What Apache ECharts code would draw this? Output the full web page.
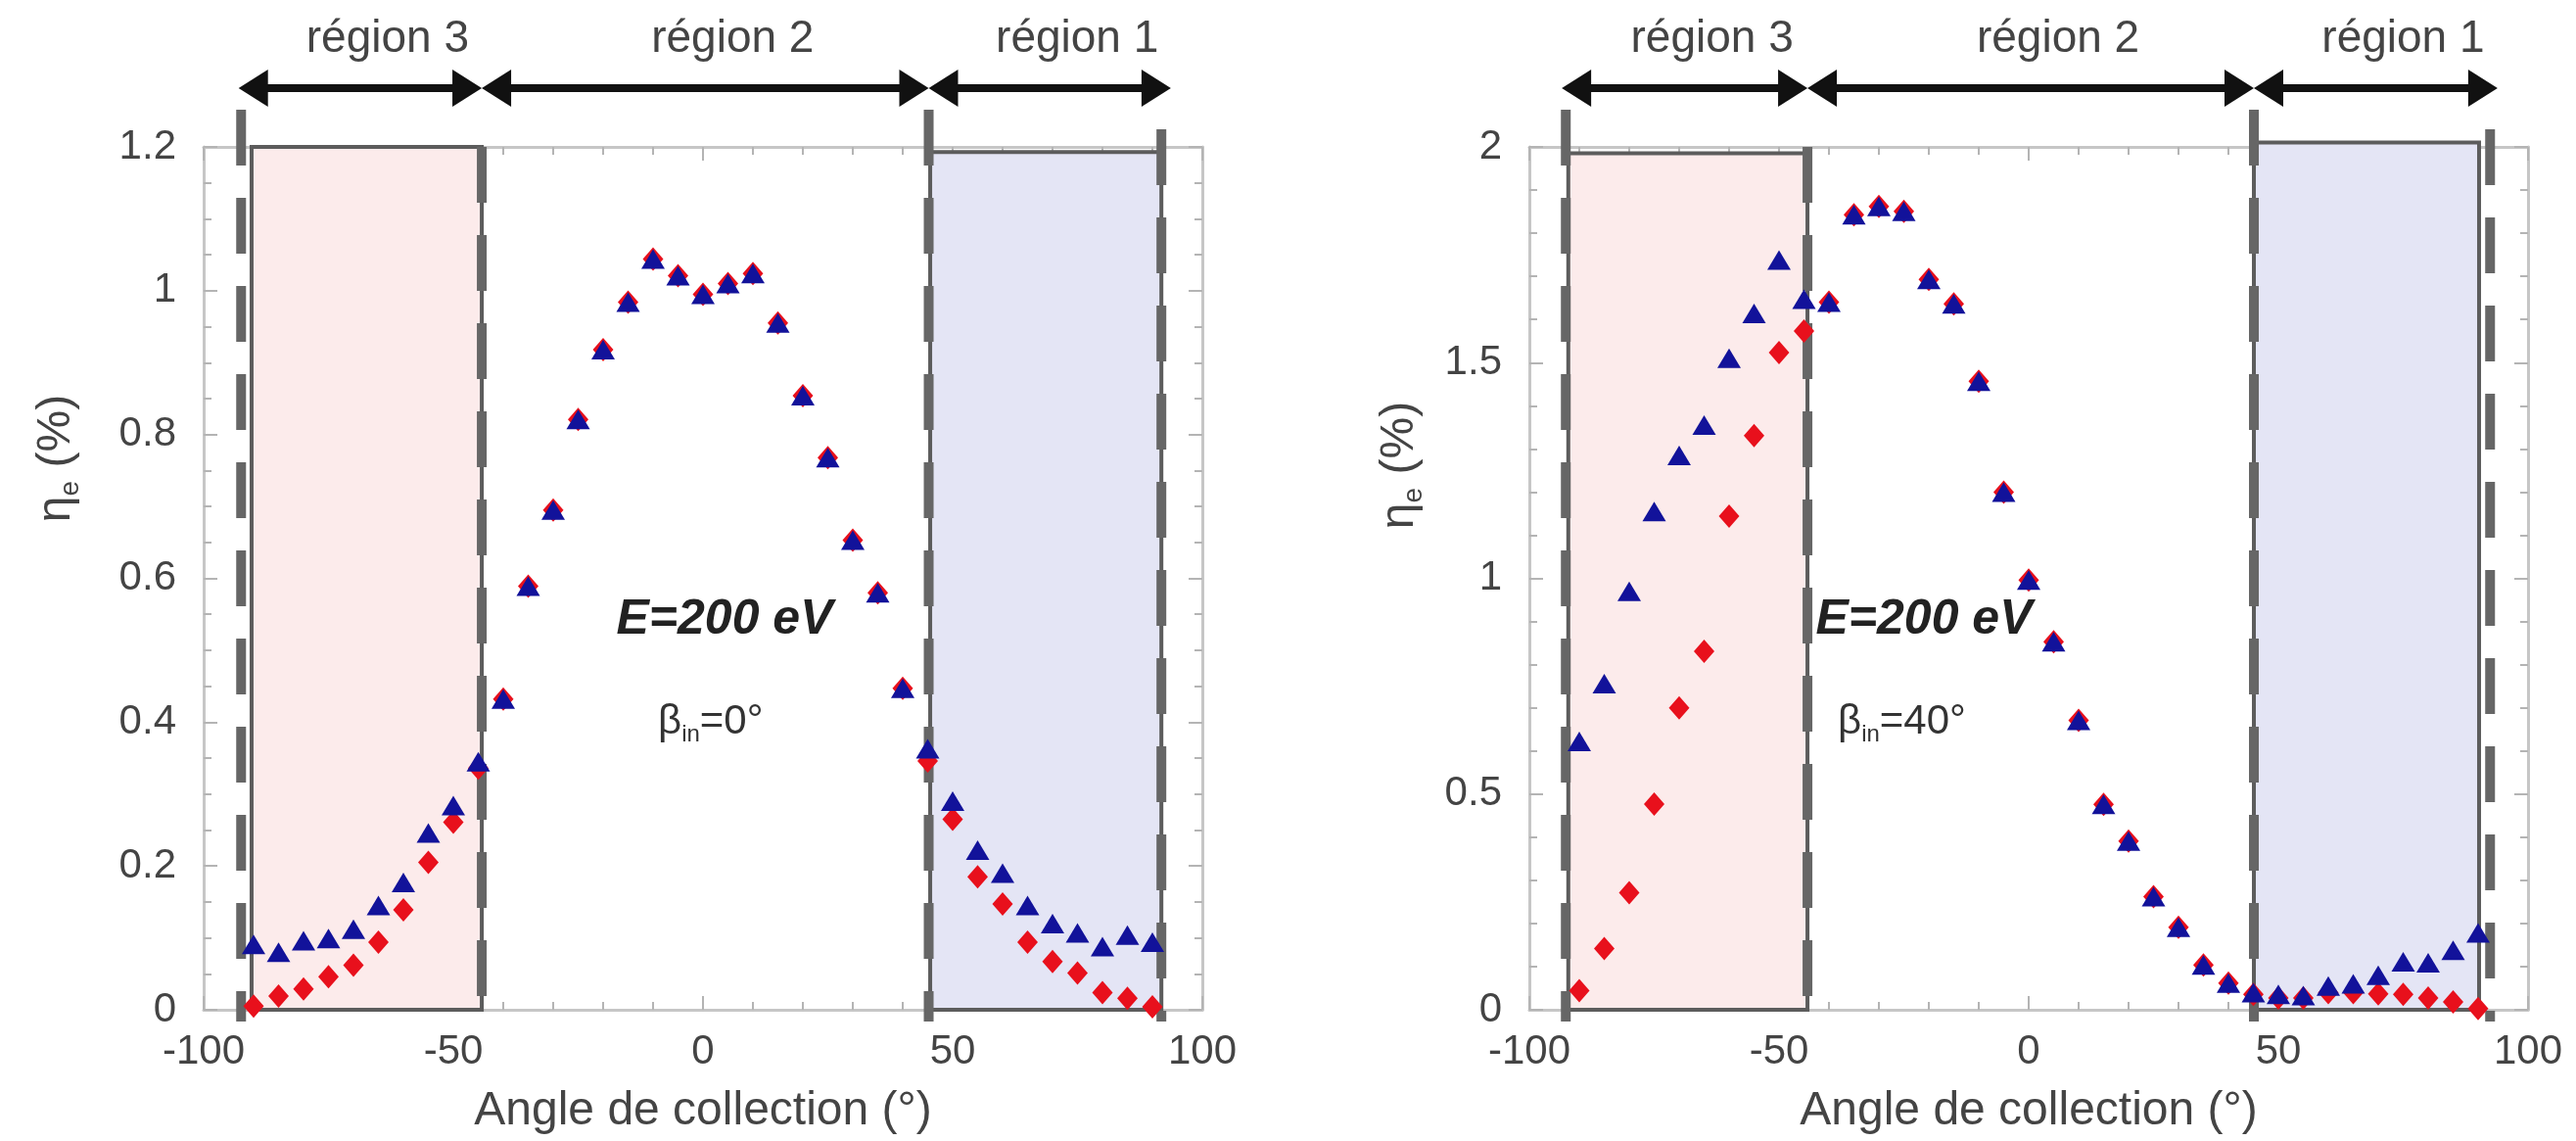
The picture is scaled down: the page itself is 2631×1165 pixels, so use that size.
<!DOCTYPE html>
<html>
<head>
<meta charset="utf-8">
<script src="https://cdn.jsdelivr.net/npm/echarts@6/dist/echarts.min.js"></script>
<style>
  html, body { margin: 0; padding: 0; background: #fff; }
  #chart { width: 2631px; height: 1165px; }
</style>
</head>
<body>
<div id="chart"></div>
<script>
// collection angles (deg), shared by both panels
var angles = [-90, -85, -80, -75, -70, -65, -60, -55, -50, -45,
  -40, -35, -30, -25, -20, -15, -10, -5, 0, 5, 10, 15, 20, 25, 30, 35, 40,
  45, 50, 55, 60, 65, 70, 75, 80, 85, 90];

// beta_in = 0 deg
var eta0Tri = [0.091, 0.080, 0.096, 0.099, 0.112, 0.145, 0.177, 0.246, 0.284, 0.345,
  0.432, 0.589, 0.695, 0.821, 0.918, 0.984, 1.044, 1.021, 0.995, 1.010, 1.024, 0.955, 0.854, 0.768, 0.653, 0.580, 0.447,
  0.363, 0.290, 0.222, 0.190, 0.145, 0.120, 0.107, 0.088, 0.104, 0.094];
var eta0Dia = [0.005, 0.019, 0.029, 0.046, 0.062, 0.094, 0.139, 0.205, 0.261, 0.336,
  0.432, 0.589, 0.695, 0.821, 0.918, 0.984, 1.044, 1.021, 0.995, 1.010, 1.024, 0.955, 0.854, 0.768, 0.653, 0.580, 0.447,
  0.346, 0.265, 0.185, 0.147, 0.094, 0.067, 0.051, 0.024, 0.016, 0.004];

// beta_in = 40 deg
var eta40Tri = [0.622, 0.756, 0.970, 1.155, 1.285, 1.355, 1.510, 1.614, 1.738, 1.647,
  1.640, 1.843, 1.862, 1.851, 1.693, 1.636, 1.457, 1.200, 0.996, 0.853, 0.671, 0.476, 0.391, 0.262, 0.191, 0.104, 0.062,
  0.040, 0.036, 0.033, 0.055, 0.060, 0.080, 0.111, 0.109, 0.138, 0.178];
var eta40Dia = [0.044, 0.142, 0.271, 0.477, 0.700, 0.831, 1.144, 1.331, 1.523, 1.573,
  1.640, 1.843, 1.862, 1.851, 1.693, 1.636, 1.457, 1.200, 0.996, 0.853, 0.671, 0.476, 0.391, 0.262, 0.191, 0.104, 0.062,
  0.036, 0.027, 0.027, 0.040, 0.040, 0.037, 0.036, 0.027, 0.018, 0.003];

// region boundaries (angle), shaded boxes [from, to, top]
var regionNames = ['région 3', 'région 2', 'région 1'];
var arrowBeta0 = [-93, -44.3, 45.2, 93.7];
var arrowBeta40 = [-93.5, -44.3, 45.1, 93.9];
var dashBeta0 = [-92.5, -44.3, 45.2, 91.8];
var dashBeta40 = [-92.7, -44.3, 45.1, 92.4];
var shadeBeta0 = [[-90.4, -44.3, 1.2], [45.5, 91.8, 1.193]];
var shadeBeta40 = [[-92.2, -44.3, 1.985], [45.1, 90.2, 2.01]];

var yMaxes = [1.2, 2];
var ySteps = [0.2, 0.5];
var yMinorSplits = [4, 5];
var xTicks = { min: -100, max: 100, step: 50 };
var energyText = 'E=200 eV';
var betaTexts = ['=0°', '=40°'];
var xTitle = 'Angle de collection (°)';

var font = 'Liberation Sans, Arial, sans-serif';
var frameColor = '#c6c6c6';
var tickColor = '#b4b4b4';
var textColor = '#444';
var triColor = '#12129a';
var diaColor = '#e8101c';
var shadeFills = ['#fcebeb', '#e4e5f5'];
var dashRise = [38, 0, 38, 18];

var chart = echarts.init(document.getElementById('chart'));

function pairs(xs, ys) {
  return xs.map(function (x, i) { return [x, ys[i]]; });
}

function xAxesFor(gi) {
  var base = {
    gridIndex: gi, type: 'value', min: xTicks.min, max: xTicks.max, interval: xTicks.step,
    splitLine: { show: false },
    axisLine: { onZero: false, lineStyle: { color: frameColor, width: 3 } },
    axisTick: { inside: true, length: 14, lineStyle: { color: tickColor, width: 2 } },
    minorTick: { show: true, splitNumber: 5, length: 8, lineStyle: { color: tickColor, width: 2 } }
  };
  var bottom = Object.assign({}, base, {
    position: 'bottom',
    axisLabel: { margin: 22, fontSize: 42, color: textColor, fontFamily: font },
    name: xTitle, nameLocation: 'middle', nameGap: 80,
    nameTextStyle: { fontSize: 48, color: textColor, fontFamily: font }
  });
  var top = Object.assign({}, base, { position: 'top', axisLabel: { show: false } });
  return [bottom, top];
}

function yAxesFor(gi) {
  var base = {
    gridIndex: gi, type: 'value', min: 0, max: yMaxes[gi], interval: ySteps[gi],
    splitLine: { show: false },
    axisLine: { show: true, onZero: false, lineStyle: { color: frameColor, width: 3 } },
    axisTick: { show: true, inside: true, length: 14, lineStyle: { color: tickColor, width: 2 } },
    minorTick: { show: true, splitNumber: yMinorSplits[gi], length: 8, lineStyle: { color: tickColor, width: 2 } }
  };
  var left = Object.assign({}, base, {
    position: 'left',
    axisLabel: { margin: 28, fontSize: 42, color: textColor, fontFamily: font }
  });
  var right = Object.assign({}, base, { position: 'right', axisLabel: { show: false } });
  return [left, right];
}

function panelSeries(gi, tri, dia, shade, dashes, arrows) {
  var ai = gi * 2;
  var segs = [];
  for (var i = 0; i < arrows.length - 1; i++) segs.push([arrows[i], arrows[i + 1]]);
  return [
    {
      type: 'custom', xAxisIndex: ai, yAxisIndex: ai, z: 1, silent: true,
      data: shade,
      renderItem: function (params, api) {
        var p0 = api.coord([api.value(0), api.value(2)]);
        var p1 = api.coord([api.value(1), 0]);
        return {
          type: 'rect',
          shape: { x: p0[0], y: p0[1], width: p1[0] - p0[0], height: p1[1] - p0[1] },
          style: { fill: shadeFills[params.dataIndex], stroke: '#5c5c5c', lineWidth: 4 }
        };
      }
    },
    {
      type: 'custom', xAxisIndex: ai, yAxisIndex: ai, z: 2, silent: true,
      data: dashes.map(function (x) { return [x, 0]; }),
      renderItem: function (params, api) {
        var x = api.coord([api.value(0), 0])[0];
        var cs = params.coordSys;
        return {
          type: 'line',
          shape: { x1: x, y1: cs.y - dashRise[params.dataIndex], x2: x, y2: cs.y + cs.height + 12 },
          style: { stroke: '#666', lineWidth: 10, lineDash: [57, 33] }
        };
      }
    },
    {
      type: 'custom', xAxisIndex: ai, yAxisIndex: ai, z: 3, silent: true,
      data: segs,
      renderItem: function (params, api) {
        var a = api.coord([api.value(0), 0])[0];
        var b = api.coord([api.value(1), 0])[0];
        var cs = params.coordSys;
        var y = cs.y - 60;
        var hl = 30, hw = 19;
        return {
          type: 'group',
          children: [
            { type: 'line', shape: { x1: a + hl - 2, y1: y, x2: b - hl + 2, y2: y },
              style: { stroke: '#111', lineWidth: 8 } },
            { type: 'polygon', shape: { points: [[a, y], [a + hl, y - hw], [a + hl, y + hw]] },
              style: { fill: '#111' } },
            { type: 'polygon', shape: { points: [[b, y], [b - hl, y - hw], [b - hl, y + hw]] },
              style: { fill: '#111' } },
            { type: 'text', x: (a + b) / 2 + 28, y: cs.y - 110,
              style: { text: regionNames[params.dataIndex], fontSize: 46, fontFamily: font, fill: textColor,
                align: 'center', verticalAlign: 'middle', textAlign: 'center', textVerticalAlign: 'middle' } }
          ]
        };
      }
    },
    {
      type: 'scatter', xAxisIndex: ai, yAxisIndex: ai, z: 5,
      data: pairs(angles, dia),
      symbol: 'diamond', symbolSize: [21, 24],
      itemStyle: { color: diaColor, opacity: 1 }
    },
    {
      type: 'scatter', xAxisIndex: ai, yAxisIndex: ai, z: 6,
      data: pairs(angles, tri),
      symbol: 'triangle', symbolSize: [24, 20],
      itemStyle: { color: triColor, opacity: 1 }
    }
  ];
}

function betaLabel(x, y, txt) {
  return {
    type: 'text', x: x, y: y,
    style: {
      text: '{b|β}{s|in}{b|' + txt + '}',
      align: 'left', verticalAlign: 'middle', textAlign: 'left', textVerticalAlign: 'middle',
      rich: {
        b: { fontSize: 42, fontFamily: font, fill: '#333', color: '#333', lineHeight: 50 },
        s: { fontSize: 24, fontFamily: font, fill: '#333', color: '#333', lineHeight: 24, verticalAlign: 'bottom' }
      }
    }
  };
}

function etaTitle(x, y) {
  return {
    type: 'text', x: x, y: y, rotation: Math.PI / 2,
    style: {
      text: '{g|η}{s|e}{g| (%)}',
      align: 'center', verticalAlign: 'middle', textAlign: 'center', textVerticalAlign: 'middle',
      rich: {
        g: { fontSize: 48, fontFamily: font, fill: textColor, color: textColor, lineHeight: 56 },
        s: { fontSize: 28, fontFamily: font, fill: textColor, color: textColor, lineHeight: 28, verticalAlign: 'bottom' }
      }
    }
  };
}

function energyLabel(x, y) {
  return {
    type: 'text', x: x, y: y,
    style: {
      text: energyText, fontSize: 50, fontWeight: 'bold', fontStyle: 'italic', fontFamily: font, fill: '#222',
      align: 'center', verticalAlign: 'middle', textAlign: 'center', textVerticalAlign: 'middle'
    }
  };
}

var option = {
  backgroundColor: '#fff',
  animation: false,
  grid: [
    { left: 208, top: 150, width: 1020, height: 881 },
    { left: 1562, top: 150, width: 1020, height: 881 }
  ],
  xAxis: xAxesFor(0).concat(xAxesFor(1)),
  yAxis: yAxesFor(0).concat(yAxesFor(1)),
  series: panelSeries(0, eta0Tri, eta0Dia, shadeBeta0, dashBeta0, arrowBeta0)
    .concat(panelSeries(1, eta40Tri, eta40Dia, shadeBeta40, dashBeta40, arrowBeta40)),
  graphic: [
    etaTitle(58, 468),
    etaTitle(1430, 475),
    energyLabel(740, 633),
    energyLabel(1965, 633),
    betaLabel(672, 737, betaTexts[0]),
    betaLabel(1877, 737, betaTexts[1])
  ]
};

chart.setOption(option);
</script>
</body>
</html>
